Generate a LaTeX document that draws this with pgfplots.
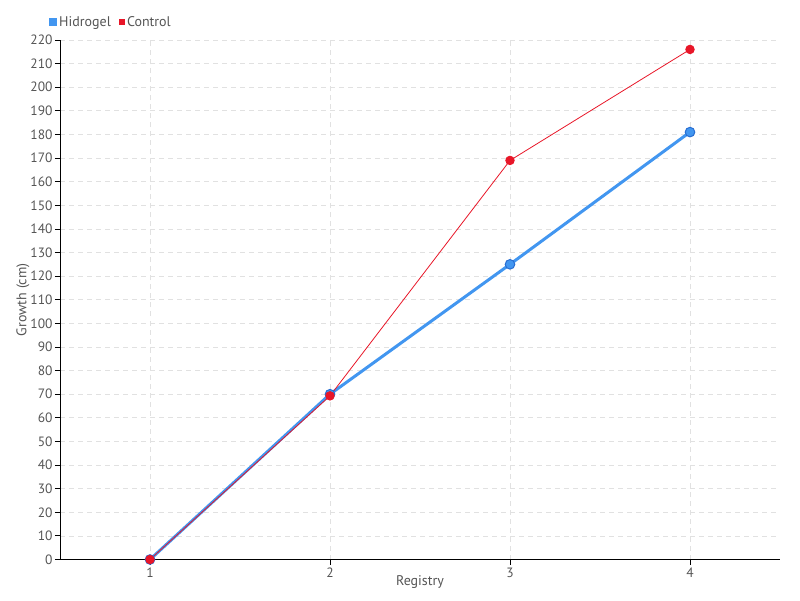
\documentclass[border=0pt]{standalone}
\usepackage{pgfplots}
\pgfplotsset{compat=1.18}
\usepackage{fontspec}
\setmainfont{PT Sans}
\definecolor{hblue}{RGB}{66,150,240}
\definecolor{hblueD}{RGB}{40,110,210}
\definecolor{cred}{RGB}{232,22,40}
\definecolor{tgray}{RGB}{85,85,85}
\definecolor{ggray}{RGB}{225,225,225}
\begin{document}
\begin{tikzpicture}
\begin{axis}[
  name=ax,
  scale only axis, width=720pt, height=519.5pt,
  xmin=0.5, xmax=4.5, ymin=0, ymax=220,
  axis x line=bottom, axis y line=left,
  axis line style={black, line width=0.9pt, -},
  xtick={1,2,3,4}, ytick distance=10,
  tick align=outside, major tick length=5pt,
  tick style={black, line width=0.8pt},
  grid=major,
  major grid style={ggray, dashed, dash pattern=on 5pt off 4pt, line width=0.7pt},
  ticklabel style={font=\fontsize{13.5}{16}\selectfont, text=tgray},
  yticklabel style={xshift=1pt},
  /pgf/number format/assume math mode=true,
  xlabel={Registry}, ylabel={Growth (cm)},
  label style={font=\fontsize{14}{16}\selectfont, text=tgray},
  xlabel style={yshift=9pt},
  ylabel style={yshift=-6pt},
  legend columns=2,
  legend style={draw=none, fill=none, at={(-0.02,1)}, anchor=south west, yshift=8pt,
    font=\fontsize{14}{16}\selectfont, text=tgray,
    /tikz/every even column/.append style={column sep=6pt}},
  legend image code/.code={\fill[#1] (0pt,-2.7pt) rectangle (5.4pt,2.7pt);},
]
\addplot[hblue, line width=3pt, mark=*, mark size=4.8pt,
  mark options={fill=hblue, draw=hblueD, line width=1pt}]
  coordinates {(1,0) (2,70) (3,125) (4,181)};
\addlegendentry{Hidrogel}
\addplot[cred, line width=0.8pt, mark=*, mark size=4.3pt,
  mark options={fill=cred, draw=cred}]
  coordinates {(1,0) (2,69.3) (3,169) (4,216)};
\addlegendentry{Control}
\end{axis}
\pgfresetboundingbox
\useasboundingbox ([shift={(-60pt,-40.5pt)}]ax.south west) rectangle ([shift={(740pt,559.5pt)}]ax.south west);
\end{tikzpicture}
\end{document}
